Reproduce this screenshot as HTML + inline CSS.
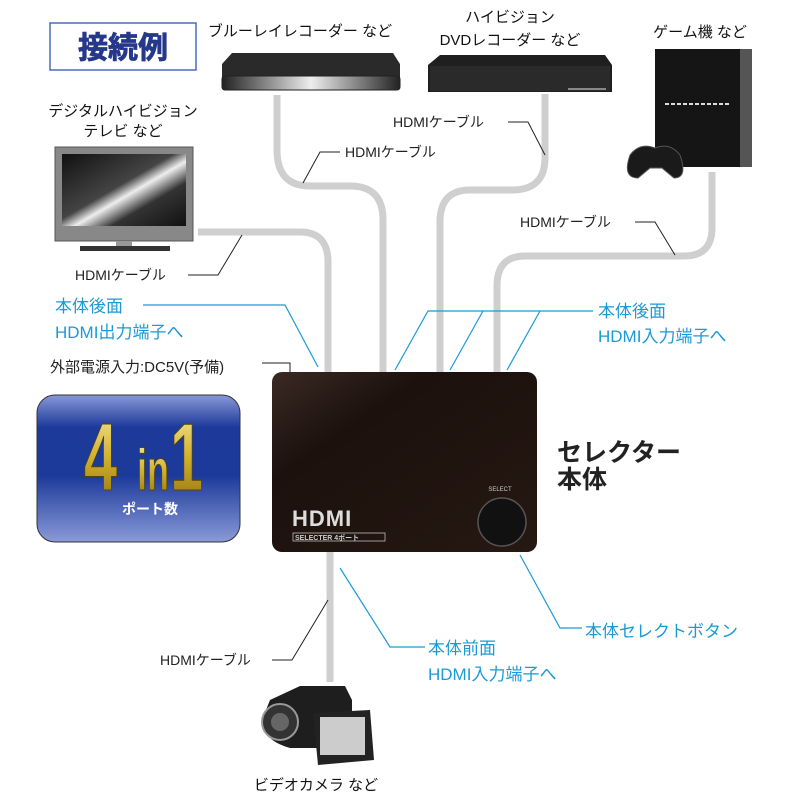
<!DOCTYPE html>
<html><head><meta charset="utf-8"><style>
html,body{margin:0;padding:0;background:#fff}
svg{display:block}
text{font-family:"Liberation Sans","Noto Sans CJK JP",sans-serif}
</style></head><body>
<svg width="800" height="800" viewBox="0 0 800 800" xmlns="http://www.w3.org/2000/svg">
<defs>
<linearGradient id="scr" x1="0" y1="0" x2="1" y2="1">
<stop offset="0" stop-color="#111"/><stop offset="0.45" stop-color="#444"/><stop offset="0.55" stop-color="#eee"/><stop offset="0.7" stop-color="#333"/><stop offset="1" stop-color="#111"/></linearGradient>
<linearGradient id="blue" x1="0" y1="0" x2="0" y2="1">
<stop offset="0" stop-color="#8898d8"/><stop offset="0.22" stop-color="#1d3a9a"/><stop offset="0.55" stop-color="#1c3a9a"/><stop offset="1" stop-color="#8a9ad8"/></linearGradient>
<linearGradient id="gold" x1="0" y1="0" x2="0" y2="1">
<stop offset="0" stop-color="#f6eca8"/><stop offset="0.5" stop-color="#d2b12c"/><stop offset="1" stop-color="#8a6d10"/></linearGradient>
<linearGradient id="box" x1="0" y1="0" x2="1" y2="1">
<stop offset="0" stop-color="#3a2a24"/><stop offset="0.3" stop-color="#1c110d"/><stop offset="1" stop-color="#261812"/></linearGradient>
<linearGradient id="br" x1="0" y1="0" x2="1" y2="0">
<stop offset="0" stop-color="#222"/><stop offset="0.5" stop-color="#eee"/><stop offset="1" stop-color="#222"/></linearGradient>
</defs>

<rect x="50" y="23" width="146" height="47" fill="#fff" stroke="#4a6cc0" stroke-width="1.5"/>
<text x="123" y="58" font-size="30" font-weight="bold" fill="#26388a" stroke="#26388a" stroke-width="0.8" text-anchor="middle">接続例</text>

<g fill="none" stroke="#cfcfcf" stroke-width="7">
<path d="M277 95 V150 Q277 186 310 186 H350 Q383 186 383 220 V375"/>
<path d="M198 232 H300 Q328 232 328 262 V375"/>
<path d="M545 94 V158 Q545 190 512 190 H470 Q440 190 440 222 V375"/>
<path d="M712 172 V228 Q712 256 684 256 H525 Q497 256 497 286 V375"/>
<path d="M330 552 V682"/>
</g>

<text x="123" y="116" font-size="15" text-anchor="middle" fill="#111">デジタルハイビジョン</text>
<text x="123" y="136" font-size="15" text-anchor="middle" fill="#111">テレビ など</text>
<rect x="55" y="147" width="138" height="94" fill="#888" stroke="#555"/>
<rect x="62" y="154" width="124" height="72" fill="url(#scr)"/>
<rect x="116" y="241" width="16" height="6" fill="#999"/>
<rect x="80" y="246" width="90" height="5" fill="#333"/>

<text x="300" y="36" font-size="15" text-anchor="middle" fill="#111">ブルーレイレコーダー など</text>
<path d="M232 53 H393 L400 64 V78 H222 V64 Z" fill="#2a2a2a"/>
<rect x="222" y="76" width="178" height="14" rx="3" fill="url(#br)" stroke="#222"/>

<text x="510" y="22" font-size="15" text-anchor="middle" fill="#111">ハイビジョン</text>
<text x="510" y="45" font-size="15" text-anchor="middle" fill="#111">DVDレコーダー など</text>
<path d="M440 55 H605 L612 65 V92 H428 V65 Z" fill="#1f1f1f"/>
<rect x="430" y="66" width="180" height="25" fill="#2a2a2a"/>
<rect x="568" y="88" width="38" height="2" fill="#888"/>

<text x="700" y="37" font-size="15" text-anchor="middle" fill="#111">ゲーム機 など</text>
<rect x="655" y="49" width="85" height="118" fill="#151515"/>
<rect x="740" y="49" width="12" height="118" fill="#555"/>
<line x1="665" y1="104" x2="730" y2="104" stroke="#ddd" stroke-width="2" stroke-dasharray="4 2"/>
<path d="M630 155 Q640 142 655 148 Q670 142 680 155 Q688 178 674 178 L662 168 H650 L638 178 Q622 178 630 155Z" fill="#1a1a1a" stroke="#555"/>

<g font-size="14" fill="#222">
<text x="345" y="157">HDMIケーブル</text>
<text x="393" y="127">HDMIケーブル</text>
<text x="520" y="227">HDMIケーブル</text>
<text x="75" y="280">HDMIケーブル</text>
<text x="160" y="665">HDMIケーブル</text>
</g>
<g fill="none" stroke="#222" stroke-width="1">
<path d="M340 152 H320 L303 183"/>
<path d="M508 122 H528 L545 155"/>
<path d="M635 222 H655 L675 255"/>
<path d="M188 275 H218 L242 235"/>
<path d="M272 660 H292 L328 600"/>
<path d="M262 363 H290 V375"/>
</g>
<text x="50" y="372" font-size="15" fill="#222">外部電源入力:DC5V(予備)</text>

<g font-size="17" fill="#1a9ad6">
<text x="55" y="312">本体後面</text>
<text x="55" y="338">HDMI出力端子へ</text>
<text x="598" y="317">本体後面</text>
<text x="598" y="342">HDMI入力端子へ</text>
<text x="585" y="637">本体セレクトボタン</text>
<text x="428" y="654">本体前面</text>
<text x="428" y="680">HDMI入力端子へ</text>
</g>
<g fill="none" stroke="#1a9ad6" stroke-width="1.2">
<path d="M143 305 H285 L318 367"/>
<path d="M593 311 H428 L395 370 M483 311 L450 370 M540 311 L507 370"/>
<path d="M340 568 L390 647 H425"/>
<path d="M520 555 L560 628 H582"/>
</g>

<rect x="272" y="372" width="265" height="180" rx="10" fill="url(#box)"/>
<text x="292" y="526" font-size="22" font-weight="bold" fill="#ddd" letter-spacing="1">HDMI</text>
<rect x="293" y="533" width="92" height="8" fill="none" stroke="#bbb" stroke-width="0.8"/>
<text x="295" y="540" font-size="7" fill="#ccc" font-weight="bold">SELECTER 4ポート</text>
<text x="500" y="491" font-size="6" fill="#ccc" text-anchor="middle">SELECT</text>
<circle cx="502" cy="522" r="24" fill="#111" stroke="#555" stroke-width="1.5"/>

<text x="557" y="461" font-size="25" font-weight="bold" fill="#222">セレクター</text>
<text x="557" y="488" font-size="25" font-weight="bold" fill="#222">本体</text>

<rect x="37" y="395" width="203" height="147" rx="18" fill="url(#blue)" stroke="#333" stroke-width="1"/>
<g fill="url(#gold)" stroke="#5a4400" stroke-width="1" font-weight="bold">
<text transform="translate(84,490) scale(0.62,1)" font-size="96">4</text>
<text transform="translate(137,490) scale(0.62,1)" font-size="58">in</text>
<text transform="translate(170,490) scale(0.62,1)" font-size="96">1</text>
</g>
<text x="150" y="514" font-size="14" font-weight="bold" fill="#fff" text-anchor="middle">ポート数</text>

<path d="M270 700 L300 686 H345 L352 700 V748 H290 Q262 740 262 720Z" fill="#1e1e1e"/>
<circle cx="280" cy="722" r="18" fill="#333" stroke="#999" stroke-width="2"/>
<circle cx="280" cy="722" r="9" fill="#666"/>
<path d="M313 713 L370 710 L374 760 L318 765Z" fill="#222"/>
<rect x="320" y="717" width="45" height="38" fill="#ccc"/>
<text x="316" y="790" font-size="15" text-anchor="middle" fill="#111">ビデオカメラ など</text>
</svg>
</body></html>
